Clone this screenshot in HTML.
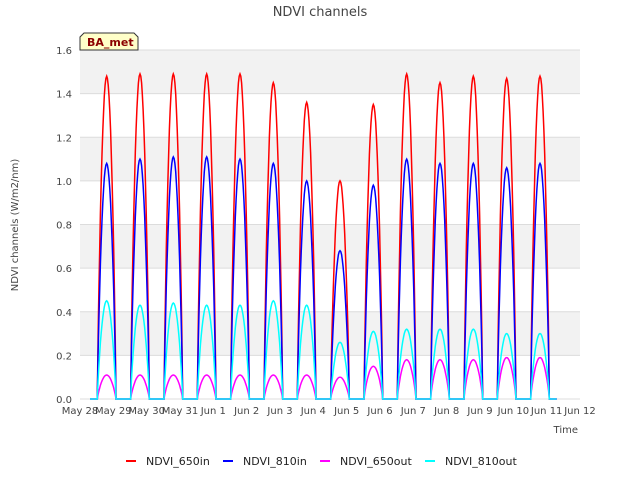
<!DOCTYPE html>
<html><head><meta charset="utf-8"><style>
body{margin:0;background:#fff;font-family:"Liberation Sans","DejaVu Sans",sans-serif}
</style></head><body>
<svg id="c" width="640" height="480" xmlns="http://www.w3.org/2000/svg" font-family="DejaVu Sans, Liberation Sans, sans-serif">
<rect width="640" height="480" fill="#fff"/>
<text x="320" y="16" text-anchor="middle" font-size="13" fill="#444">NDVI channels</text>
<g id="plot"></g>
<text x="18" y="225" transform="rotate(-90 18 225)" text-anchor="middle" font-size="10" fill="#444">NDVI channels (W/m2/nm)</text>
<text x="578" y="433" text-anchor="end" font-size="10" fill="#444">Time</text>
<g>
<path d="M80,50 L80,37 L84,33 L134,33 L138,37 L138,50 Z" fill="#ffffc8" stroke="#333"/>
<text x="87" y="46" font-size="11" font-weight="bold" fill="#8b0000">BA_met</text>
</g>
<g id="legend"></g>
</svg>
<script>
const days=["May 28","May 29","May 30","May 31","Jun 1","Jun 2","Jun 3","Jun 4","Jun 5","Jun 6","Jun 7","Jun 8","Jun 9","Jun 10","Jun 11","Jun 12"];
const yTicks=[0,0.2,0.4,0.6,0.8,1.0,1.2,1.4,1.6];
const seriesNames=["NDVI_650in","NDVI_810in","NDVI_650out","NDVI_810out"];
const seriesColors=["#ff0000","#0000ff","#ff00ff","#00ffff"];
const peak650in=[1.48,1.49,1.49,1.49,1.49,1.45,1.36,1.0,1.35,1.49,1.45,1.48,1.47,1.48];
const peak810in=[1.08,1.10,1.11,1.11,1.10,1.08,1.0,0.68,0.98,1.10,1.08,1.08,1.06,1.08];
const peak650out=[0.11,0.11,0.11,0.11,0.11,0.11,0.11,0.10,0.15,0.18,0.18,0.18,0.19,0.19];
const peak810out=[0.45,0.43,0.44,0.43,0.43,0.45,0.43,0.26,0.31,0.32,0.32,0.32,0.30,0.30];
const L=80,R=580,T=50,B=399;
const X=d=>L+(R-L)*d/15, Y=v=>B-(B-T)*v/1.6;
const NS="http://www.w3.org/2000/svg";
const plot=document.getElementById('plot');
function mk(tag,attrs,parent){const e=document.createElementNS(NS,tag);for(const k in attrs)e.setAttribute(k,attrs[k]);parent.appendChild(e);return e;}
mk('rect',{x:L,y:T,width:R-L,height:B-T,fill:'#fff'},plot);
for(let i=1;i<yTicks.length;i+=2){
  const b=mk('rect',{x:L,y:Y(yTicks[i+0]===undefined?0:yTicks[i]+0.2>1.6?1.6:yTicks[i]+0.2),width:R-L,height:Y(yTicks[i])-Y(Math.min(1.6,yTicks[i]+0.2)),fill:'#f2f2f2'},plot);
  
  
}
yTicks.forEach(v=>{
  const g=mk('line',{x1:L,x2:R,y1:Y(v),y2:Y(v),stroke:'#dcdcdc'},plot);
  
  
  const t=mk('text',{x:L-8,y:Y(v)+4,'text-anchor':'end','font-size':10,fill:'#444'},plot);
  t.textContent=v.toFixed(1);
  
  
});
days.forEach((d,i)=>{
  const t=mk('text',{x:X(i),y:414,'text-anchor':'middle','font-size':10,fill:'#444'},plot);
  t.textContent=d;
  
  
});
const all=[peak650in,peak810in,peak650out,peak810out];
all.forEach((pk,s)=>{
  let d='';
  pk.forEach((p,i)=>{
    const t0=i+0.52,t1=i+1.08,n=24;
    d+=`M${X(i+0.3).toFixed(1)},${Y(0)} L${X(t0).toFixed(1)},${Y(0)} `;
    for(let k=0;k<=n;k++){const t=t0+(t1-t0)*k/n;const v=p*Math.pow(Math.sin(Math.PI*k/n),0.8);d+=`L${X(t).toFixed(1)},${Y(v).toFixed(1)} `;}
    d+=`L${X(i+1.3).toFixed(1)},${Y(0)} `;
  });
  const p=mk('path',{d:d,fill:'none',stroke:seriesColors[s],'stroke-width':1.5},plot);
  
  
});
const lg=document.getElementById('legend');
const lx=[126,223,320,425];
seriesNames.forEach((n,i)=>{
  const l=mk('line',{x1:lx[i],x2:lx[i]+10,y1:461,y2:461,stroke:seriesColors[i],'stroke-width':2},lg);
  
  
  const t=mk('text',{x:lx[i]+20,y:465,'font-size':11,fill:'#222'},lg);
  t.textContent=n;
  
  
});
</script>
</body></html>
